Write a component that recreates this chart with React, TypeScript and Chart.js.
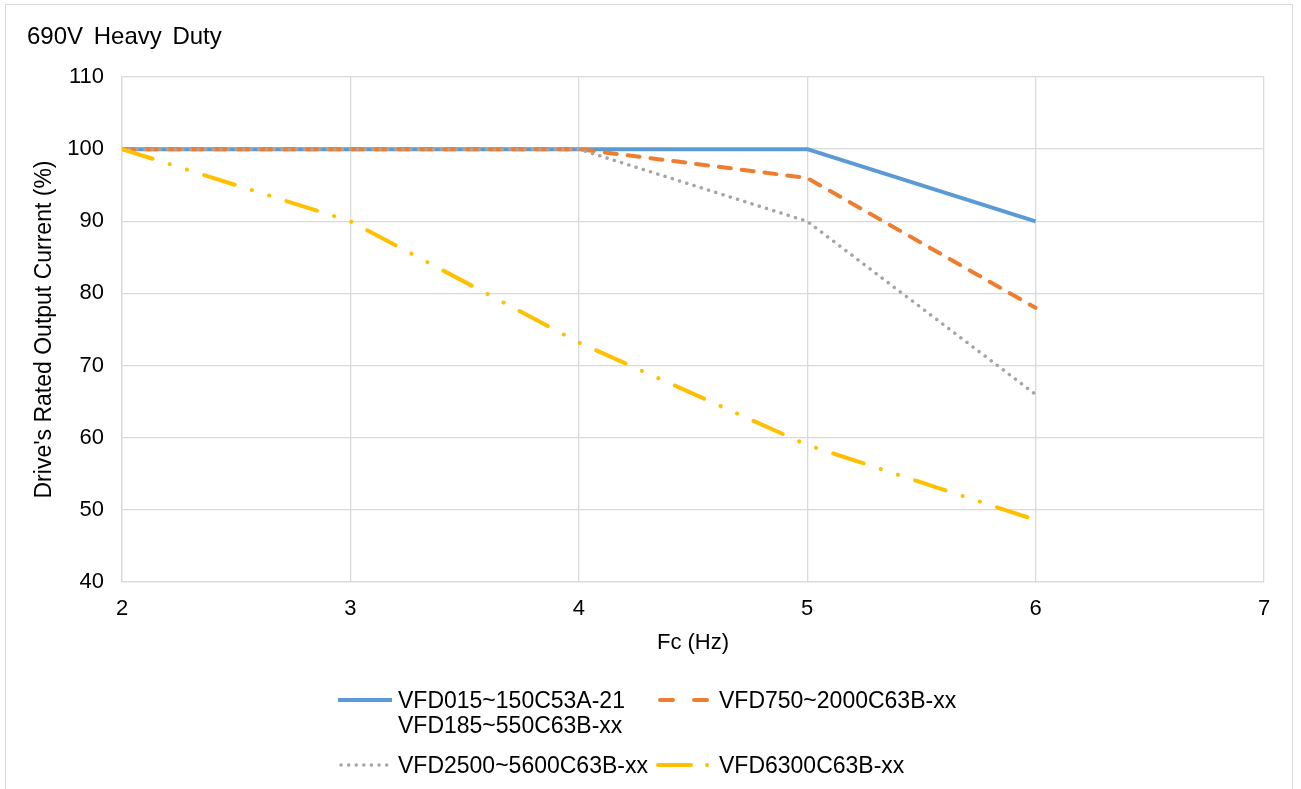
import React, { useEffect, useRef } from "react";
import { Chart, registerables } from "chart.js";

Chart.register(...registerables);

const FC = [2, 3, 4, 5, 6];
const SERIES_LABELS = [
  "VFD015~150C53A-21\nVFD185~550C63B-xx",
  "VFD750~2000C63B-xx",
  "VFD2500~5600C63B-xx",
  "VFD6300C63B-xx",
];
const S1 = [100, 100, 100, 100, 90];
const S2 = [100, 100, 100, 96, 78];
const S3 = [100, 100, 100, 90, 66];
const S4 = [100, 90, 73.2, 59, 48.6];
const X_TICKS = [2, 3, 4, 5, 6, 7];
const Y_TICKS = [40, 50, 60, 70, 80, 90, 100, 110];

const FONT = "'Liberation Sans', Arial, sans-serif";
const COLORS = ["#5b9bd5", "#ed7d31", "#a5a5a5", "#ffc000"];
const DASHES: number[][] = [[], [12, 11], [0.1, 7.5], [32, 18, 0.1, 18, 0.1, 18]];

function pts(ys: number[]) {
  return FC.map((x, i) => ({ x, y: ys[i] }));
}

const SAMPLE = [
  { x1: 4, x2: 58, dash: undefined as string | undefined, w: 4 },
  { x1: 10, x2: 58, dash: "13 21", w: 4 },
  { x1: 7, x2: 56, dash: "0.1 7.5", w: 3.5 },
  { x1: 8, x2: 60, dash: "33 16 0.1 100", w: 4 },
];

function LegendSample({ i }: { i: number }) {
  const s = SAMPLE[i];
  return (
    <svg width={64} height={12} style={{ display: "block" }}>
      <line
        x1={s.x1}
        y1={6}
        x2={s.x2}
        y2={6}
        stroke={COLORS[i]}
        strokeWidth={s.w}
        strokeLinecap={i === 0 ? "butt" : "round"}
        strokeDasharray={s.dash}
      />
    </svg>
  );
}

export default function App() {
  const ref = useRef<HTMLCanvasElement | null>(null);

  useEffect(() => {
    if (!ref.current) return;
    const all = [S1, S2, S3, S4];
    const chart = new Chart(ref.current, {
      type: "line",
      data: {
        datasets: all.map((s, i) => ({
          label: SERIES_LABELS[i],
          data: pts(s),
          borderColor: COLORS[i],
          backgroundColor: COLORS[i],
          borderWidth: i === 2 ? 3.5 : 4,
          borderDash: DASHES[i],
          borderCapStyle: i === 0 ? "butt" : "round",
          borderJoinStyle: "round",
          pointRadius: 0,
          tension: 0,
          fill: false,
          order: 4 - i,
        })),
      },
      options: {
        animation: false,
        responsive: false,
        maintainAspectRatio: false,
        layout: { padding: { left: 0, right: 37, top: 77, bottom: 132 } },
        plugins: {
          legend: { display: false },
          title: { display: false },
          tooltip: { enabled: false },
        },
        scales: {
          x: {
            type: "linear",
            min: 2,
            max: 7,
            afterBuildTicks: (s: any) => {
              s.ticks = X_TICKS.map((v) => ({ value: v }));
            },
            afterFit: (s: any) => {
              s.height = 75;
            },
            ticks: {
              color: "#000",
              font: { family: FONT, size: 22 },
              padding: 14,
            },
            grid: { color: "#d9d9d9", lineWidth: 1.3, drawTicks: false, tickLength: 0 },
            border: { color: "#d9d9d9", width: 1.3 },
            title: {
              display: true,
              text: "Fc (Hz)",
              color: "#000",
              font: { family: FONT, size: 22 },
              padding: { top: 0, bottom: 1 },
            },
          },
          y: {
            type: "linear",
            min: 40,
            max: 110,
            afterBuildTicks: (s: any) => {
              s.ticks = Y_TICKS.map((v) => ({ value: v }));
            },
            afterFit: (s: any) => {
              s.width = 122;
            },
            ticks: {
              color: "#000",
              font: { family: FONT, size: 22 },
              padding: 18,
            },
            grid: { color: "#d9d9d9", lineWidth: 1.3, drawTicks: false, tickLength: 0 },
            border: { color: "#d9d9d9", width: 1.3 },
            title: {
              display: true,
              text: "Drive's Rated Output Current (%)",
              color: "#000",
              font: { family: FONT, size: 23 },
              padding: { top: 31, bottom: 0 },
            },
          },
        },
      },
    } as any);
    return () => chart.destroy();
  }, []);

  const textStyle: React.CSSProperties = {
    position: "absolute",
    fontFamily: FONT,
    fontSize: 23,
    color: "#000",
    lineHeight: "24px",
    whiteSpace: "nowrap",
  };

  return (
    <div style={{ position: "fixed", left: 0, top: 0, width: 1301, height: 789, background: "#fff", overflow: "hidden" }}>
      <div
        style={{
          position: "absolute",
          left: 5,
          top: 4,
          width: 1288,
          height: 800,
          border: "1.5px solid #d9d9d9",
          boxSizing: "border-box",
        }}
      />
      <canvas ref={ref} width={1301} height={789} style={{ position: "absolute", left: 0, top: 0, width: 1301, height: 789 }} />
      <div style={{ ...textStyle, fontSize: 24, wordSpacing: 4, left: 27, top: 24 }}>690V Heavy Duty</div>

      <div style={{ position: "absolute", left: 334, top: 694 }}><LegendSample i={0} /></div>
      <div style={{ ...textStyle, left: 398, top: 688 }}>VFD015~150C53A-21</div>
      <div style={{ ...textStyle, left: 398, top: 713 }}>VFD185~550C63B-xx</div>

      <div style={{ position: "absolute", left: 650, top: 694 }}><LegendSample i={1} /></div>
      <div style={{ ...textStyle, left: 719, top: 688 }}>VFD750~2000C63B-xx</div>

      <div style={{ position: "absolute", left: 334, top: 759 }}><LegendSample i={2} /></div>
      <div style={{ ...textStyle, left: 398, top: 753 }}>VFD2500~5600C63B-xx</div>

      <div style={{ position: "absolute", left: 650, top: 759 }}><LegendSample i={3} /></div>
      <div style={{ ...textStyle, left: 719, top: 753 }}>VFD6300C63B-xx</div>
    </div>
  );
}
